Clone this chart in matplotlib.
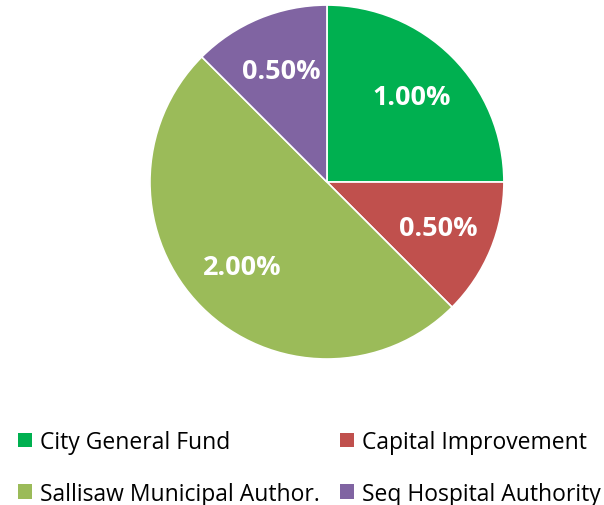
import matplotlib.pyplot as plt
from matplotlib.patches import Patch

labels = ["City General Fund", "Capital Improvement", "Sallisaw Municipal Author.", "Seq Hospital Authority"]
values = [1.00, 0.50, 2.00, 0.50]
colors = ["#00B050", "#C0504D", "#9BBB59", "#8064A2"]

plt.rcParams['font.family'] = ['Open Sans', 'DejaVu Sans']

fig = plt.figure(figsize=(6.04, 5.06), dpi=100)
ax = fig.add_axes([0.2483, 0.2885, 0.586, 0.6996])

wedges, texts, autotexts = ax.pie(values, colors=colors, startangle=90, counterclock=False,
                                  autopct=lambda p: "%.2f%%" % (p * sum(values) / 100),
                                  pctdistance=0.68,
                                  wedgeprops=dict(edgecolor="white", linewidth=1.2))
for t in autotexts:
    t.set_color("white")
    t.set_fontweight("bold")
    t.set_fontsize(19.5)
ax.set_xlim(-1, 1)
ax.set_ylim(-1, 1)
ax.set_aspect("equal")

handles = [Patch(facecolor=c) for c in colors]
# order so that legend reads row by row
order = [0, 2, 1, 3]
fig.legend([handles[i] for i in order], [labels[i] for i in order], ncol=2,
           loc="upper left", bbox_to_anchor=(0.0298, 0.148), frameon=False, fontsize=16.5,
           handlelength=0.61, handleheight=0.61, handletextpad=0.35, columnspacing=0.87,
           labelspacing=1.2, borderpad=0, borderaxespad=0)

fig.savefig("out.png", dpi=100)
